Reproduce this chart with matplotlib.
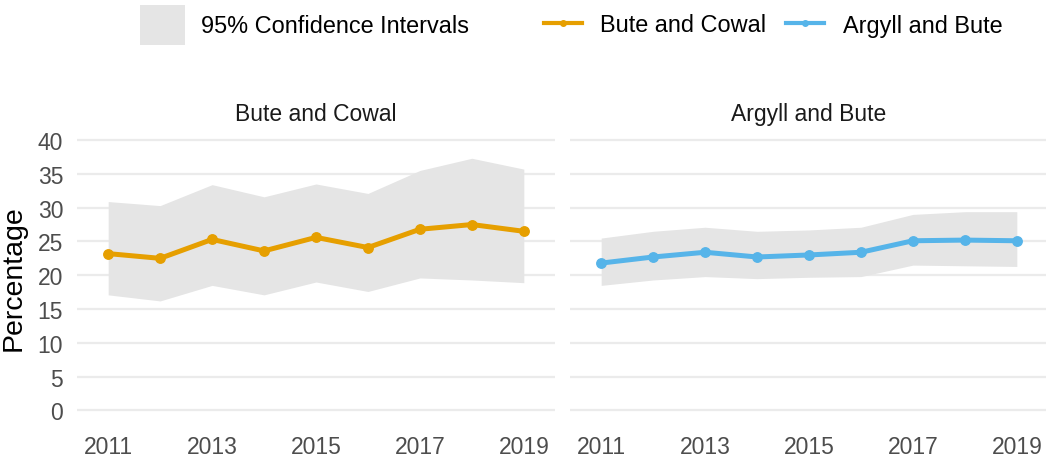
import matplotlib
matplotlib.use("Agg")
import matplotlib.pyplot as plt
from matplotlib.lines import Line2D
from matplotlib.patches import Patch

plt.rcParams["font.family"] = ["Liberation Sans", "DejaVu Sans"]

years = [2011, 2012, 2013, 2014, 2015, 2016, 2017, 2018, 2019]

# Bute and Cowal
bc_value = [23.2, 22.5, 25.3, 23.6, 25.6, 24.1, 26.8, 27.5, 26.5]
bc_upper = [30.9, 30.3, 33.4, 31.6, 33.5, 32.1, 35.5, 37.3, 35.7]
bc_lower = [17.1, 16.2, 18.5, 17.1, 19.0, 17.6, 19.6, 19.3, 18.9]

# Argyll and Bute
ab_value = [21.8, 22.7, 23.4, 22.7, 23.0, 23.4, 25.1, 25.2, 25.1]
ab_upper = [25.5, 26.5, 27.1, 26.5, 26.7, 27.1, 29.0, 29.4, 29.4]
ab_lower = [18.5, 19.3, 19.8, 19.5, 19.7, 19.8, 21.5, 21.4, 21.3]

panels = [
    ("Bute and Cowal", bc_value, bc_lower, bc_upper, "#E69F00"),
    ("Argyll and Bute", ab_value, ab_lower, ab_upper, "#56B4E9"),
]

ribbon_col = "#e5e5e5"
grid_col = "#ebebeb"
fs = 16.5
leg_fs = 16.9

W, H = 1046, 460
fig = plt.figure(figsize=(W / 100, H / 100), dpi=100)

lefts = [77, 570]
for i, (name, val, lo, hi, col) in enumerate(panels):
    ax = fig.add_axes([lefts[i] / W, 1 - 425 / H, 478 / W, 297.5 / H])
    ax.fill_between(years, lo, hi, color=ribbon_col, linewidth=0)
    ax.plot(years, val, color=col, lw=3.6, marker="o", ms=6.8,
            solid_capstyle="round", solid_joinstyle="round")
    ax.set_xlim(2010.4, 2019.6)
    ax.set_ylim(-2, 42)
    ax.set_xticks([2011, 2013, 2015, 2017, 2019])
    ax.set_yticks(range(0, 41, 5))
    if i == 1:
        ax.set_yticklabels([])
    ax.set_axisbelow(True)
    ax.grid(axis="y", color=grid_col, lw=1.6)
    ax.grid(axis="x", visible=False)
    for s in ax.spines.values():
        s.set_visible(False)
    ax.tick_params(length=0, labelsize=fs, labelcolor="#4d4d4d")
    ax.tick_params(axis="y", pad=10)
    ax.tick_params(axis="x", pad=8)
    ax.set_title(name, fontsize=fs, color="#1a1a1a", pad=5)

fig.text(14 / W, 1 - 278 / H, "Percentage", rotation=90, ha="center",
         va="center", fontsize=20.5)

ci_handle = [Patch(facecolor=ribbon_col, edgecolor="none", label="95% Confidence Intervals")]
fig.legend(handles=ci_handle, loc="center left", bbox_to_anchor=(140 / W, 1 - 26 / H),
           frameon=False, fontsize=leg_fs, borderpad=0, borderaxespad=0,
           handlelength=1.9, handleheight=2.2, handletextpad=0.7)

line_handles = [
    Line2D([], [], color=c, lw=3, marker="o", ms=4, label=n)
    for n, _, _, _, c in panels
]
fig.legend(handles=line_handles, loc="center left", bbox_to_anchor=(544 / W, 1 - 26 / H),
           ncol=2, frameon=False, fontsize=leg_fs, borderpad=0, borderaxespad=0,
           handlelength=1.6, handletextpad=0.8, columnspacing=0.85)

fig.savefig("out.png", dpi=100)
